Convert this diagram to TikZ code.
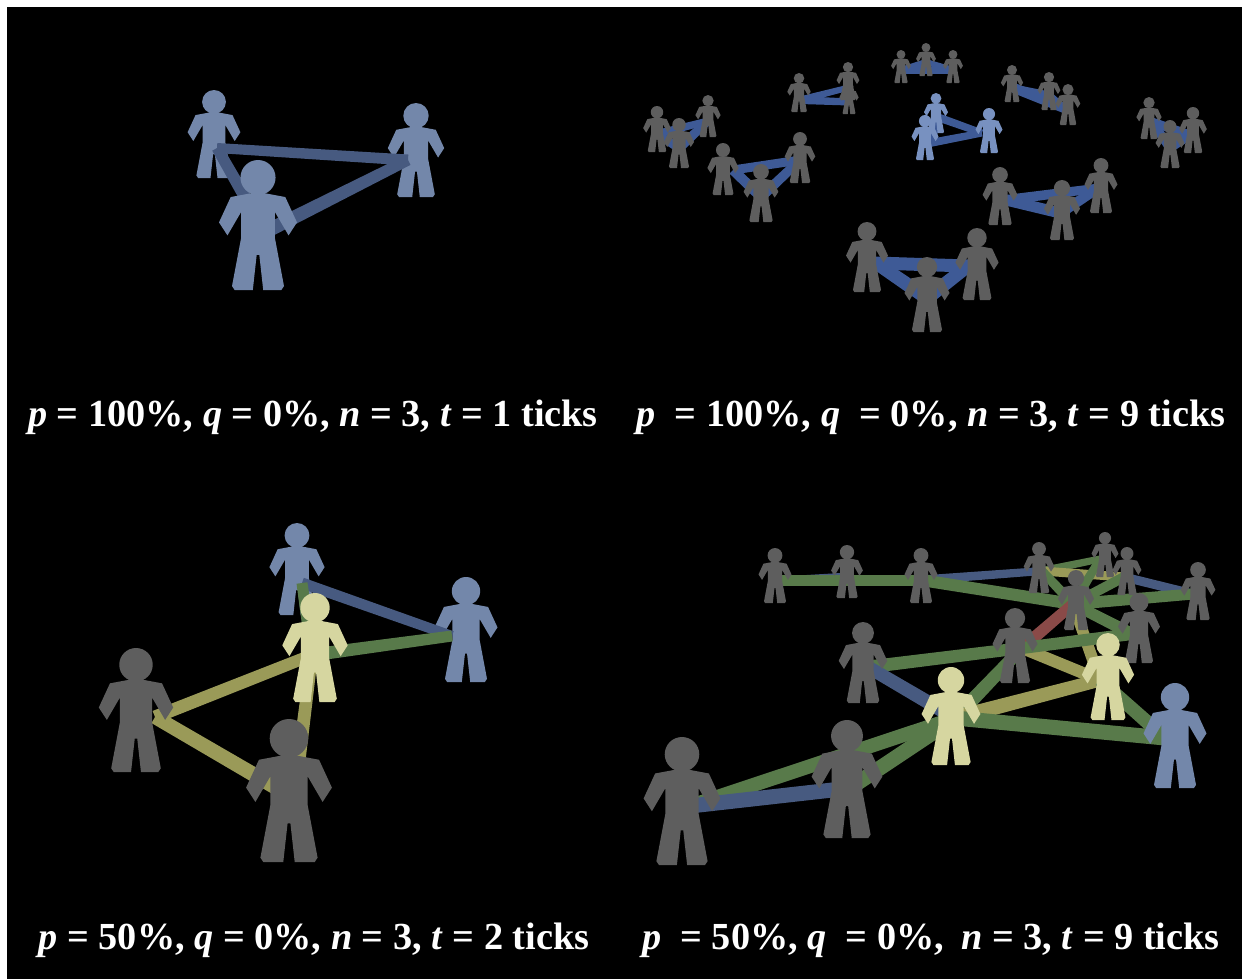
\documentclass[tikz,border=0pt]{standalone}
\usepackage{fontspec}
\setmainfont{Liberation Serif}
\usetikzlibrary{calc}

\definecolor{pBlue}{RGB}{115,135,170}
\definecolor{pBlueHi}{RGB}{120,145,192}
\definecolor{pGray}{RGB}{94,94,94}
\definecolor{pYellow}{RGB}{214,214,160}
\definecolor{lBlue}{RGB}{71,90,128}
\definecolor{lBlueHi}{RGB}{62,90,150}
\definecolor{lGreen}{RGB}{88,122,74}
\definecolor{lYellow}{RGB}{154,154,88}
\definecolor{lRed}{RGB}{138,74,72}

% stick figure: x of centre, y of head top, height, colour (pixel units, y down)
\newcommand\person[4]{%
  \begin{scope}[shift={(#1,#2)},scale=#3]
    \fill[#4] (0,0.135) circle (0.135);
    \fill[#4] (0.05,0.255) -- (0.21,0.285) -- (0.30,0.48) -- (0.235,0.58) -- (0.13,0.40)
      -- (0.13,0.60) -- (0.20,0.97) -- (0.18,1) -- (0.04,1) -- (0.01,0.73)
      -- (-0.01,0.73) -- (-0.04,1) -- (-0.18,1) -- (-0.20,0.97) -- (-0.13,0.60)
      -- (-0.13,0.40) -- (-0.235,0.58) -- (-0.30,0.48) -- (-0.21,0.285) -- (-0.05,0.255) -- cycle;
  \end{scope}}

% tapered tie between two named points: from, to, width at from, width at to (px), colour
\newcommand\tie[5]{%
  \fill[#5] ($(#1)!#3*0.375pt!90:(#2)$) -- ($(#1)!#3*0.375pt!-90:(#2)$)
    -- ($(#2)!#4*0.375pt!90:(#1)$) -- ($(#2)!#4*0.375pt!-90:(#1)$) -- cycle;}

\newcommand\vv[1]{\textbf{\textit{#1}}}

\begin{document}
\begin{tikzpicture}[x=0.75pt,y=-0.75pt,
  caption/.style={text=white,font=\fontsize{28.7}{34}\selectfont\bfseries,inner sep=0pt}]
\useasboundingbox (0,0) rectangle (1243,979);
\fill[black] (7,7) rectangle (1242,979);

% ---------- panel 1 ----------
\coordinate (a1) at (217,148);
\coordinate (a2) at (408,160);
\coordinate (a3) at (265,232);
\person{214}{90}{88}{pBlue}
\person{416}{103}{94}{pBlue}
\tie{a1}{a2}{10}{11}{lBlue}
\tie{a1}{a3}{11}{13}{lBlue}
\tie{a3}{a2}{14}{11}{lBlue}
\person{258}{160}{130}{pBlue}

% ---------- panel 2 ----------
% group a
\coordinate (ga1) at (657,134); \coordinate (ga2) at (708,121); \coordinate (ga3) at (679,148);
\tie{ga1}{ga2}{8}{7}{lBlueHi} \tie{ga3}{ga2}{10}{8}{lBlueHi} \tie{ga1}{ga3}{8}{9}{lBlueHi}
% group b
\coordinate (gb1) at (800,100); \coordinate (gb2) at (847,88); \coordinate (gb3) at (849,102);
\tie{gb1}{gb2}{7}{6}{lBlueHi} \tie{gb1}{gb3}{8}{7}{lBlueHi} \tie{gb2}{gb3}{6}{6}{lBlueHi}
% group c
\coordinate (gc1) at (901,70); \coordinate (gc2) at (926,62); \coordinate (gc3) at (953,70);
\tie{gc1}{gc3}{7}{7}{lBlueHi} \tie{gc1}{gc2}{6}{6}{lBlueHi} \tie{gc2}{gc3}{6}{6}{lBlueHi}
% group d
\coordinate (gd1) at (940,118); \coordinate (gd2) at (930,143); \coordinate (gd3) at (982,133);
\tie{gd1}{gd3}{8}{7}{lBlueHi} \tie{gd2}{gd3}{8}{7}{lBlueHi} \tie{gd1}{gd2}{7}{7}{lBlueHi}
% group e
\coordinate (ge1) at (1014,88); \coordinate (ge2) at (1049,95); \coordinate (ge3) at (1064,108);
\tie{ge1}{ge3}{10}{10}{lBlueHi} \tie{ge1}{ge2}{7}{7}{lBlueHi} \tie{ge2}{ge3}{7}{7}{lBlueHi}
% group f
\coordinate (gf1) at (1152,122); \coordinate (gf2) at (1190,135); \coordinate (gf3) at (1170,148);
\tie{gf1}{gf2}{9}{9}{lBlueHi} \tie{gf1}{gf3}{9}{9}{lBlueHi} \tie{gf3}{gf2}{9}{9}{lBlueHi}
% group g
\coordinate (gg1) at (733,170); \coordinate (gg2) at (800,160); \coordinate (gg3) at (761,197);
\tie{gg1}{gg2}{9}{9}{lBlueHi} \tie{gg1}{gg3}{10}{10}{lBlueHi} \tie{gg3}{gg2}{10}{9}{lBlueHi}
% group h
\coordinate (gh1) at (1006,200); \coordinate (gh2) at (1099,188); \coordinate (gh3) at (1060,213);
\tie{gh1}{gh2}{10}{9}{lBlueHi} \tie{gh1}{gh3}{11}{11}{lBlueHi} \tie{gh3}{gh2}{11}{9}{lBlueHi}
% group i
\coordinate (gi1) at (876,263); \coordinate (gi2) at (927,298); \coordinate (gi3) at (968,266);
\tie{gi1}{gi3}{13}{13}{lBlueHi} \tie{gi1}{gi2}{13}{14}{lBlueHi} \tie{gi2}{gi3}{14}{13}{lBlueHi}

\person{926}{43}{33}{pGray}
\person{901}{50}{33}{pGray}
\person{953}{50}{33}{pGray}
\person{848}{62}{38}{pGray}
\person{1012}{65}{37}{pGray}
\person{1049}{72}{38}{pGray}
\person{799}{73}{39}{pGray}
\person{849}{82}{32}{pGray}
\person{1068}{84}{41}{pGray}
\person{708}{95}{42}{pGray}
\person{657}{106}{46}{pGray}
\person{1149}{97}{42}{pGray}
\person{1193}{107}{46}{pGray}
\person{1170}{120}{48}{pGray}
\person{936}{93}{40}{pBlueHi}
\person{989}{108}{45}{pBlueHi}
\person{925}{115}{45}{pBlueHi}
\person{679}{118}{50}{pGray}
\person{800}{132}{51}{pGray}
\person{723}{143}{52}{pGray}
\person{761}{164}{58}{pGray}
\person{1101}{158}{55}{pGray}
\person{1000}{167}{58}{pGray}
\person{1062}{180}{60}{pGray}
\person{867}{222}{70}{pGray}
\person{977}{228}{72}{pGray}
\person{927}{257}{75}{pGray}

% ---------- panel 3 ----------
\coordinate (b1) at (302,583);
\coordinate (b2) at (452,636);
\coordinate (b3) at (312,655);
\coordinate (b4) at (155,717);
\coordinate (b5) at (294,798);
\person{297}{523}{92}{pBlue}
\person{466}{577}{105}{pBlue}
\tie{b1}{b2}{11}{10}{lBlue}
\tie{b1}{b3}{11}{12}{lGreen}
\tie{b3}{b2}{13}{11}{lGreen}
\tie{b3}{b4}{12}{13}{lYellow}
\tie{b3}{b5}{12}{14}{lYellow}
\tie{b4}{b5}{14}{15}{lYellow}
\person{315}{593}{109}{pYellow}
\person{136}{648}{124}{pGray}
\person{289}{719}{143}{pGray}

% ---------- panel 4 ----------
\coordinate (q1) at (781,580);  \coordinate (q2) at (849,576);
\coordinate (q3) at (921,580);  \coordinate (q4) at (1042,571);
\coordinate (q5) at (1100,559); \coordinate (q6) at (1124,577);
\coordinate (q7) at (1193,594); \coordinate (q8) at (1073,604);
\coordinate (q9) at (1132,634); \coordinate (q10) at (1022,648);
\coordinate (q11) at (868,667); \coordinate (y1) at (955,718);
\coordinate (y2) at (1100,680); \coordinate (c1) at (1165,738);
\coordinate (g1) at (850,788);  \coordinate (g2) at (690,806);
\tie{q1}{q2}{7}{7}{lBlue}
\tie{q1}{q3}{11}{11}{lGreen}
\tie{q3}{q4}{9}{8}{lBlue}
\tie{q3}{q8}{12}{12}{lGreen}
\tie{q4}{q5}{8}{7}{lGreen}
\tie{q4}{q6}{9}{9}{lYellow}
\tie{q4}{q8}{9}{10}{lGreen}
\tie{q5}{q8}{8}{10}{lGreen}
\tie{q6}{q7}{9}{9}{lBlue}
\tie{q8}{q7}{12}{11}{lGreen}
\tie{q6}{q8}{10}{10}{lGreen}
\tie{q8}{q10}{11}{12}{lRed}
\tie{q8}{y2}{11}{12}{lYellow}
\tie{q8}{q9}{11}{12}{lGreen}
\tie{q10}{y2}{12}{12}{lYellow}
\tie{q10}{q9}{12}{12}{lGreen}
\tie{q11}{q10}{13}{12}{lGreen}
\tie{q11}{y1}{13}{14}{lBlue}
\tie{y1}{q10}{14}{12}{lGreen}
\tie{y1}{y2}{15}{13}{lYellow}
\tie{y1}{c1}{15}{15}{lGreen}
\tie{y2}{c1}{13}{14}{lGreen}
\tie{g2}{y1}{14}{14}{lGreen}
\tie{g2}{g1}{15}{15}{lBlue}
\tie{g1}{y1}{15}{15}{lGreen}

\person{1105}{532}{45}{pGray}
\person{1039}{542}{51}{pGray}
\person{847}{545}{53}{pGray}
\person{1127}{547}{48}{pGray}
\person{775}{548}{55}{pGray}
\person{921}{548}{55}{pGray}
\person{1198}{562}{58}{pGray}
\person{1076}{570}{60}{pGray}
\person{1139}{593}{70}{pGray}
\person{1015}{608}{75}{pGray}
\person{863}{622}{81}{pGray}
\person{1108}{633}{87}{pYellow}
\person{951}{667}{98}{pYellow}
\person{1175}{683}{105}{pBlue}
\person{847}{720}{118}{pGray}
\person{682}{737}{128}{pGray}

% ---------- captions ----------
\node[caption] (cap1) at (313,417) {\vv{p} = 100\%, \vv{q} = 0\%, \vv{n} = 3, \vv{t} = 1 ticks};
\node[caption] (cap2) at (931,417) {\vv{p}\hspace{0.25em} = 100\%, \vv{q}\hspace{0.25em} = 0\%, \vv{n} = 3, \vv{t} = 9 ticks};
\node[caption] (cap3) at (314,940) {\vv{p} = 50\%, \vv{q} = 0\%, \vv{n} = 3, \vv{t} = 2 ticks};
\node[caption] (cap4) at (931,940) {\vv{p}\hspace{0.25em} = 50\%, \vv{q}\hspace{0.25em} = 0\%,\hspace{0.2em} \vv{n} = 3, \vv{t} = 9 ticks};
\end{tikzpicture}
\end{document}
